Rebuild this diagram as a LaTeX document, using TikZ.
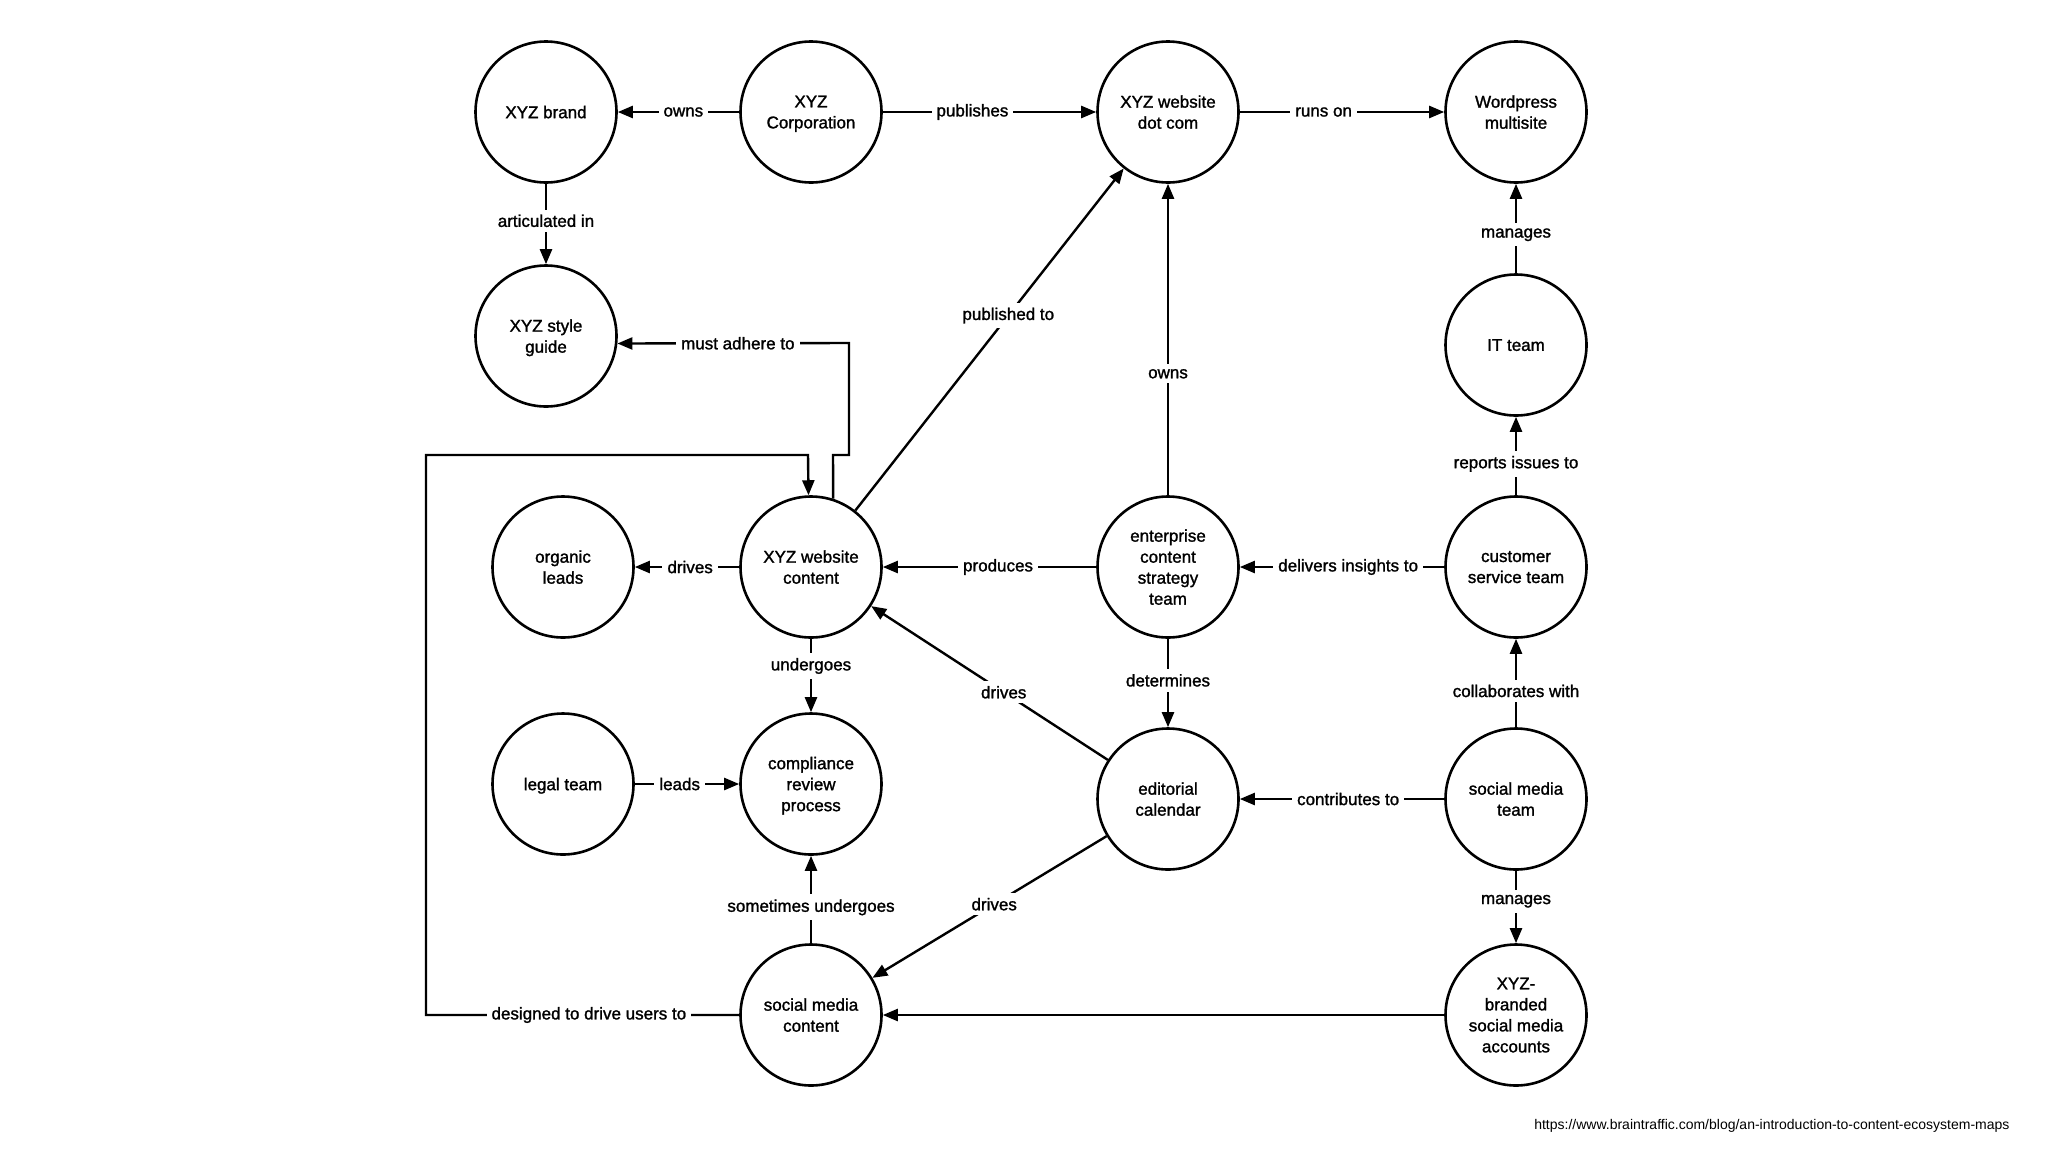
\documentclass[tikz,border=0pt]{standalone}
\usepackage{fontspec}
\setmainfont{Liberation Sans}[FakeBold=1.4]
\newfontfamily\urlfont{Liberation Sans}
\usetikzlibrary{arrows.meta}
\begin{document}
\begin{tikzpicture}[x=1pt,y=-1pt,
  ent/.style={circle, draw, line width=2.6pt, minimum size=141pt, inner sep=0pt, align=center, text depth=0pt, font=\fontsize{17}{21}\selectfont},
  arr/.style={line width=2.4pt, -{Triangle[length=15pt,width=12pt]}},
  lbl/.style={fill=white, inner sep=5pt, font=\fontsize{17}{21}\selectfont}]
\useasboundingbox (0,0) rectangle (2048,1152);
\fill[white] (0,0) rectangle (2048,1152);
% nodes
\node[ent] (brand) at (546,112) {XYZ brand};
\node[ent] (corp) at (811,112) {XYZ\\Corporation};
\node[ent] (dotcom) at (1168,112) {XYZ website\\dot com};
\node[ent] (wp) at (1516,112) {Wordpress\\multisite};
\node[ent] (guide) at (546,336) {XYZ style\\guide};
\node[ent] (it) at (1516,345) {IT team};
\node[ent] (organic) at (563,567) {organic\\leads};
\node[ent] (content) at (811,567) {XYZ website\\content};
\node[ent] (ecst) at (1168,567) {enterprise\\content\\strategy\\team};
\node[ent] (cst) at (1516,567) {customer\\service team};
\node[ent] (legal) at (563,784) {legal team};
\node[ent] (crp) at (811,784) {compliance\\review\\process};
\node[ent] (edcal) at (1168,799) {editorial\\calendar};
\node[ent] (smt) at (1516,799) {social media\\team};
\node[ent] (smc) at (811,1015) {social media\\content};
\node[ent] (acct) at (1516,1015) {XYZ-\\branded\\social media\\accounts};
% edges
\draw[arr] (corp) -- node[lbl,pos=0.46]{owns} (brand);
\draw[arr] (corp) -- node[lbl,pos=0.42]{publishes} (dotcom);
\draw[arr] (dotcom) -- node[lbl,pos=0.41]{runs on} (wp);
\draw[arr] (brand) -- node[lbl,pos=0.46]{articulated in} (guide);
\draw[arr] (it) -- node[lbl,pos=0.43]{manages} (wp);
\draw[arr] (cst) -- node[lbl,pos=0.40]{reports issues to} (it);
\draw[arr] (content) -- node[lbl,pos=0.47]{drives} (organic);
\draw[arr] (ecst) -- node[lbl,pos=0.46]{produces} (content);
\draw[arr] (cst) -- node[lbl,pos=0.47]{delivers insights to} (ecst);
\draw[arr] (ecst) -- node[lbl,pos=0.39]{owns} (dotcom);
\draw[arr] (content) -- node[lbl,pos=0.57]{published to} (dotcom);
\draw[arr] (edcal) -- node[lbl,pos=0.44]{drives} (content);
\draw[arr] (ecst) -- node[lbl,pos=0.47]{determines} (edcal);
\draw[arr] (content) -- node[lbl,pos=0.37]{undergoes} (crp);
\draw[arr] (legal) -- node[lbl,pos=0.43]{leads} (crp);
\draw[arr] (smc) -- node[lbl,pos=0.41]{sometimes undergoes} (crp);
\draw[arr] (edcal) -- node[lbl,pos=0.48]{drives} (smc);
\draw[arr] (smt) -- node[lbl,pos=0.47]{contributes to} (edcal);
\draw[arr] (smt) -- node[lbl,pos=0.41]{collaborates with} (cst);
\draw[arr] (smt) -- node[lbl,pos=0.42]{manages} (acct);
\draw[arr] (acct) -- (smc);
% routed connectors
\coordinate (j1) at (833,455);
\coordinate (j2) at (849,455);
\coordinate (j3) at (849,343);
\draw[arr] (content.72) -- (j1) -- (j2) -- (j3) -- node[lbl,pos=0.48]{must adhere to} (guide.-6);
\coordinate (k1) at (426,1015);
\coordinate (k2) at (426,455);
\coordinate (k3) at (808,455);
\draw[arr] (smc.west) -- node[lbl,pos=0.48]{designed to drive users to} (k1) -- (k2) -- (k3) -- (content.92);
% source
\node[anchor=east, font=\urlfont\fontsize{14}{16}\selectfont] (url) at (2013,1126) {https://www.braintraffic.com/blog/an-introduction-to-content-ecosystem-maps};
\end{tikzpicture}
\end{document}
